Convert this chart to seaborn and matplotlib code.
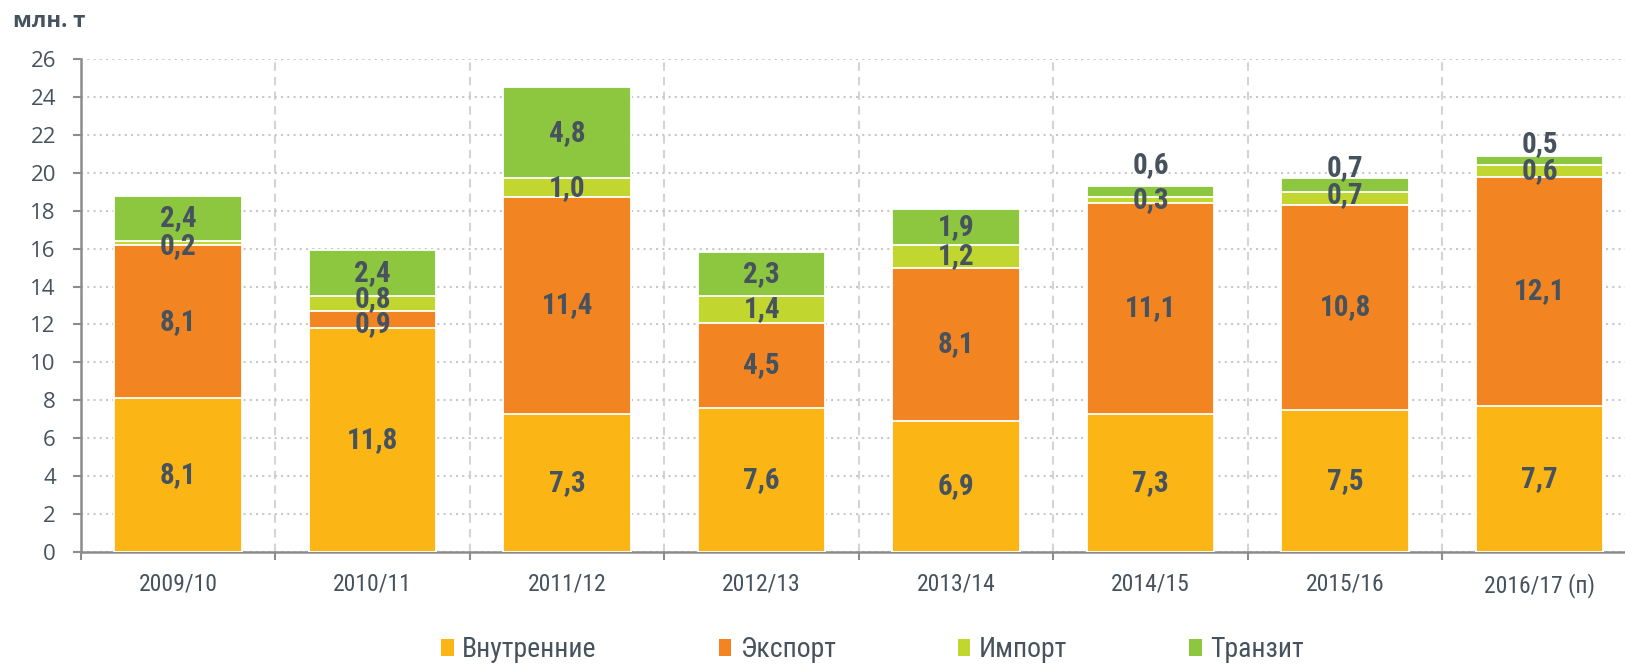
import numpy as np
import pandas as pd
import matplotlib
matplotlib.use('Agg')
import matplotlib.pyplot as plt
from matplotlib.patches import Patch
from matplotlib import font_manager
import seaborn as sns

categories = ['2009/10', '2010/11', '2011/12', '2012/13', '2013/14',
              '2014/15', '2015/16', '2016/17 (п)']
domestic = [8.1, 11.8, 7.3, 7.6, 6.9, 7.3, 7.5, 7.7]
export = [8.1, 0.9, 11.4, 4.5, 8.1, 11.1, 10.8, 12.1]
imports = [0.2, 0.8, 1.0, 1.4, 1.2, 0.3, 0.7, 0.6]
transit = [2.4, 2.4, 4.8, 2.3, 1.9, 0.6, 0.7, 0.5]
series_names = ['Внутренние', 'Экспорт', 'Импорт', 'Транзит']
y_ticks = list(range(0, 27, 2))
unit_label = 'млн. т'

colors = ['#FBB615', '#F28522', '#C1D72F', '#8DC63F']
text_col = '#46535E'

installed = {f.name for f in font_manager.fontManager.ttflist}
narrow = [f for f in ['Roboto Condensed', 'Liberation Sans Narrow', 'Arial Narrow',
                      'Liberation Sans'] if f in installed] + ['DejaVu Sans']
wide = ['Open Sans', 'DejaVu Sans']

sns.set_theme(style='white')
plt.rcParams['font.family'] = narrow

series = [domestic, export, imports, transit]
df = pd.DataFrame({'cat': categories})
for name, vals in zip(series_names, series):
    df[name] = vals
cum = df[series_names].cumsum(axis=1)

fig = plt.figure(figsize=(16.25, 6.68), dpi=100)
ax = fig.add_axes([0.0498, 0.1737, 0.9575, 0.738])

# stacked bars: draw cumulative totals from the top layer down
for name, col in reversed(list(zip(series_names, colors))):
    sns.barplot(x=df['cat'], y=cum[name], color=col, saturation=1,
                width=0.655, edgecolor='white', linewidth=1.3, ax=ax, zorder=3)

# value labels, a few nudged apart (in points) where segments are thin
nudge = {(0, 2): -2, (1, 1): -3.5, (1, 2): 3.5,
         (5, 3): 19, (6, 3): 12.5, (6, 2): 2.5, (7, 3): 12}
for j, name in enumerate(series_names):
    for i in range(len(categories)):
        v = df[name][i]
        mid = cum[name][i] - v / 2
        ax.annotate(f'{v:.1f}'.replace('.', ','), (i, mid),
                    xytext=(0, nudge.get((i, j), 0)), textcoords='offset points',
                    ha='center', va='center', fontsize=21, fontweight='bold',
                    color=text_col, zorder=5)

ax.set_xlim(-0.5, len(categories) - 0.5)
ax.set_ylim(0, 26)
ax.set_yticks(y_ticks)
ax.set_xlabel('')
ax.set_ylabel('')

# category boundaries as major ticks, labels on minor ticks
ax.set_xticks(np.arange(-0.5, len(categories), 1.0))
ax.set_xticklabels([])
ax.set_xticks(np.arange(len(categories)), minor=True)
ax.set_xticklabels(categories, minor=True)
ax.tick_params(axis='x', which='major', direction='out', length=6, width=1.5,
               color='#8C8C8C', bottom=True)
ax.tick_params(axis='x', which='minor', length=0, pad=15, labelsize=17,
               labelcolor=text_col)
ax.tick_params(axis='y', direction='out', length=6, width=1.5, color='#8C8C8C',
               pad=12, labelsize=16, labelcolor=text_col, left=True)
for lab in ax.get_yticklabels():
    lab.set_family(wide)

ax.set_axisbelow(True)
ax.grid(axis='y', linestyle=(0, (1, 2)), linewidth=1.5, color='#C8C8C8')
ax.grid(axis='x', which='major', linestyle=(0, (4, 3)), linewidth=1.5,
        color='#D4D4D4')

for side in ['top', 'right']:
    ax.spines[side].set_visible(False)
for side in ['left', 'bottom']:
    ax.spines[side].set_color('#8C8C8C')
    ax.spines[side].set_linewidth(1.8)

fig.text(0.008, 0.968, unit_label, fontsize=16, fontweight='bold',
         color=text_col, family=wide, va='center', ha='left')

handles = [Patch(facecolor=c, edgecolor='none') for c in colors]
fig.legend(handles, series_names, loc='center', bbox_to_anchor=(0.537, 0.027),
           ncol=4, frameon=False, fontsize=20, labelcolor=text_col,
           handlelength=0.45, handleheight=0.55, handletextpad=0.3,
           columnspacing=4.4, borderpad=0.2)

fig.savefig('out.png', dpi=100)
